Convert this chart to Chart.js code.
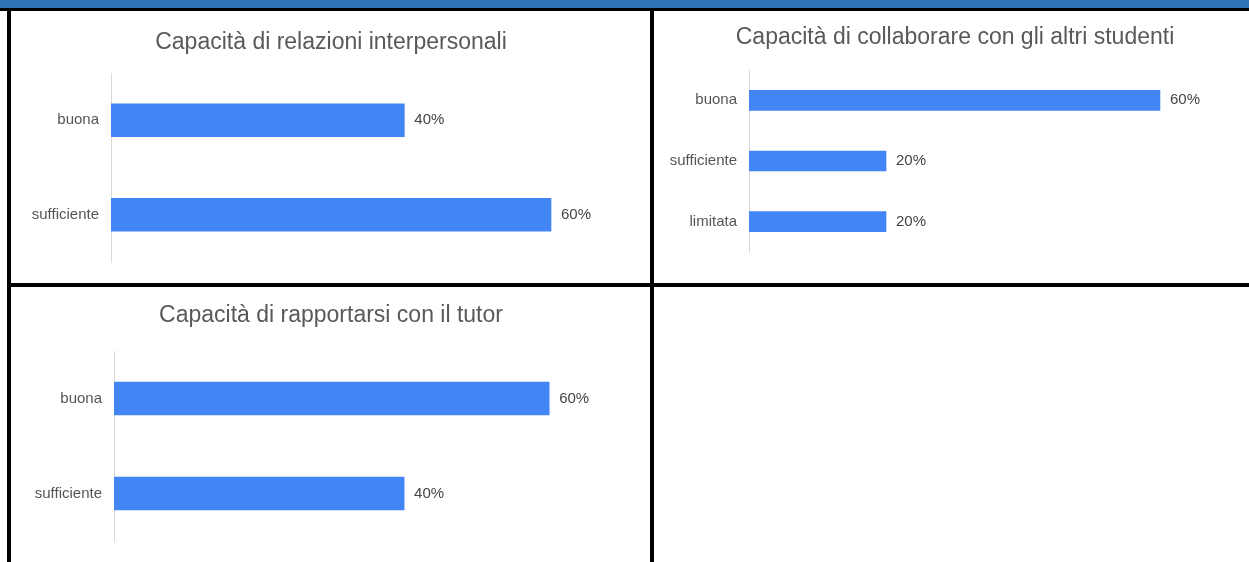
<!DOCTYPE html>
<html>
<head>
<meta charset="utf-8">
<script src="https://cdn.jsdelivr.net/npm/chart.js@4.4.1/dist/chart.umd.min.js"></script>
<style>
	body { margin: 0; background: #fff; width: 1249px; height: 562px; overflow: hidden; position: relative; }
	.line { position: absolute; background: #000; }
	.box { position: absolute; }
</style>
</head>
<body>
<div style="position:absolute;left:0;top:0;width:1249px;height:8px;background:#2e74b5"></div>
<div class="line" style="left:0;top:8px;width:1249px;height:3px"></div>
<div class="line" style="left:7px;top:8px;width:4px;height:554px"></div>
<div class="line" style="left:650px;top:8px;width:4px;height:554px"></div>
<div class="line" style="left:7px;top:283px;width:1242px;height:4px"></div>

<div class="box" style="left:12px;top:11px;width:638px;height:272px"><canvas id="relazioniChart"></canvas></div>
<div class="box" style="left:654px;top:11px;width:595px;height:272px"><canvas id="collaborareChart"></canvas></div>
<div class="box" style="left:12px;top:287px;width:638px;height:275px"><canvas id="tutorChart"></canvas></div>

<script>
const TITLE_RELAZIONI = 'Capacità di relazioni interpersonali';
const LABELS_RELAZIONI = ['buona', 'sufficiente'];
const VALUES_RELAZIONI = [40, 60];

const TITLE_COLLABORARE = 'Capacità di collaborare con gli altri studenti';
const LABELS_COLLABORARE = ['buona', 'sufficiente', 'limitata'];
const VALUES_COLLABORARE = [60, 20, 20];

const TITLE_TUTOR = 'Capacità di rapportarsi con il tutor';
const LABELS_TUTOR = ['buona', 'sufficiente'];
const VALUES_TUTOR = [60, 40];

const FONT = '"Liberation Sans", Arial, sans-serif';

// draws "40%" etc. just right of each bar
const valueLabels = {
	id: 'valueLabels',
	afterDatasetsDraw(chart) {
		const ctx = chart.ctx;
		ctx.save();
		ctx.font = '15px ' + FONT;
		ctx.fillStyle = '#444';
		ctx.textBaseline = 'middle';
		ctx.textAlign = 'left';
		chart.getDatasetMeta(0).data.forEach((bar, i) => {
			ctx.fillText(chart.data.datasets[0].data[i] + '%', bar.x + 10, bar.y);
		});
		ctx.restore();
	},
};

function initializeChart(id, title, labels, values, opts) {
	const ctx = document.getElementById(id).getContext('2d');
	return new Chart(ctx, {
		type: 'bar',
		data: {
			labels: labels,
			datasets: [
				{
					data: values,
					backgroundColor: '#4285f4',
					borderWidth: 0,
					barThickness: opts.bar,
				},
			],
		},
		options: {
			indexAxis: 'y',
			responsive: true,
			maintainAspectRatio: false,
			animation: false,
			layout: { padding: { left: opts.left, right: 0, bottom: opts.bottom, top: 0 } },
			scales: {
				x: { display: false, min: 0, max: opts.max },
				y: {
					grid: { display: false, drawTicks: false },
					border: { color: '#d9d9d9', width: 1 },
					ticks: { padding: 12, color: '#555', font: { family: FONT, size: 15 } },
					afterFit: s => { s.width = opts.axis; },
				},
			},
			plugins: {
				legend: { display: false },
				tooltip: { enabled: false },
				title: {
					display: true,
					text: title,
					color: '#595959',
					font: { family: FONT, size: 23, weight: 'normal' },
					padding: { top: opts.tTop, bottom: opts.tBottom },
				},
			},
		},
		plugins: [valueLabels],
	});
}

initializeChart('relazioniChart', TITLE_RELAZIONI, LABELS_RELAZIONI, VALUES_RELAZIONI,
	{ bar: 33, left: 0, axis: 99, max: 73.5, bottom: 18, tTop: 17.4, tBottom: 17 });
initializeChart('collaborareChart', TITLE_COLLABORARE, LABELS_COLLABORARE, VALUES_COLLABORARE,
	{ bar: 20, left: 7, axis: 88, max: 73, bottom: 31, tTop: 13.2, tBottom: 18.2 });
initializeChart('tutorChart', TITLE_TUTOR, LABELS_TUTOR, VALUES_TUTOR,
	{ bar: 33, left: 0, axis: 102, max: 73.9, bottom: 19, tTop: 15.2, tBottom: 21.2 });
</script>
</body>
</html>
